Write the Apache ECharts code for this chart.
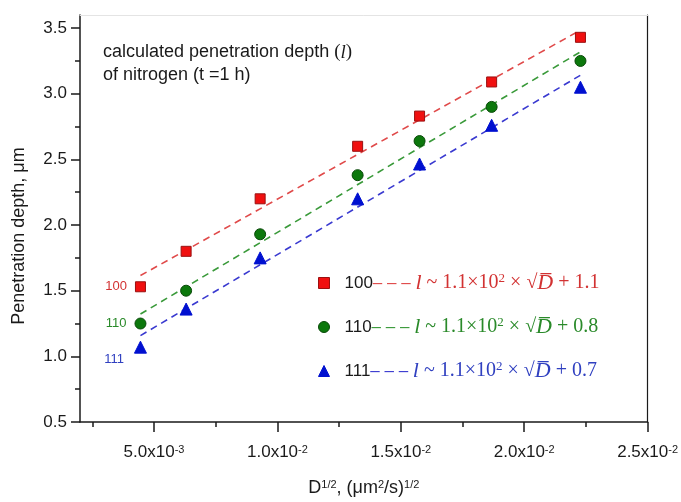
<!DOCTYPE html>
<html>
<head>
<meta charset="utf-8">
<script src="https://cdn.jsdelivr.net/npm/echarts@6/dist/echarts.min.js"></script>
<style>
  html, body { margin: 0; padding: 0; background: #fff; }
  #chart { width: 681px; height: 502px; }
</style>
</head>
<body>
<div id="chart"></div>
<script>
// Square root of the diffusion coefficient, (µm²/s)^1/2
const sqrtD = [0.00445, 0.0063, 0.0093, 0.01325, 0.01576, 0.01868, 0.02228];
// Penetration depth (µm) per crystal orientation
const depth100 = [1.53, 1.80, 2.20, 2.60, 2.83, 3.09, 3.43];
const depth110 = [1.25, 1.50, 1.93, 2.38, 2.64, 2.90, 3.25];
const depth111 = [1.07, 1.36, 1.75, 2.20, 2.465, 2.76, 3.05];
const orientations = ['100', '110', '111'];
const intercepts = ['1.1', '0.8', '0.7'];

// Axis ticks
const xMajorTicks = [0.005, 0.01, 0.015, 0.02, 0.025];
const xMinorTicks = [0.0025, 0.0075, 0.0125, 0.0175, 0.0225];
const yMajorTicks = [0.5, 1.0, 1.5, 2.0, 2.5, 3.0, 3.5];
const yMinorTicks = [0.75, 1.25, 1.75, 2.25, 2.75, 3.25];

const SANS = '"Liberation Sans", Arial, sans-serif';
const SERIF = '"Liberation Serif", "Times New Roman", serif';
const INK = '#1a1a1a';

const styles = [
  { fill: '#f01010', edge: '#9a1010', line: '#e04a4a', text: '#d23232', symbol: 'rect', size: 10, labelOffset: [0, 0] },
  { fill: '#0c780c', edge: '#0a4a0a', line: '#3a9a3a', text: '#2a8a2a', symbol: 'circle', size: 11, labelOffset: [0, 0] },
  { fill: '#0010d0', edge: '#0010d0', line: '#3a3ad0', text: '#3040c0', symbol: 'triangle', size: 12, labelOffset: [-2, 12] }
];
const depths = [depth100, depth110, depth111];

// Least-squares straight line through a set of points
function linearFit(xs, ys) {
  const n = xs.length;
  const mx = xs.reduce((a, b) => a + b, 0) / n;
  const my = ys.reduce((a, b) => a + b, 0) / n;
  let sxy = 0, sxx = 0;
  for (let i = 0; i < n; i++) {
    sxy += (xs[i] - mx) * (ys[i] - my);
    sxx += (xs[i] - mx) * (xs[i] - mx);
  }
  const slope = sxy / sxx;
  return { slope, intercept: my - slope * mx };
}

function sciLabel(v) {
  const exp = Math.floor(Math.log10(v) + 1e-9);
  const mant = (v / Math.pow(10, exp)).toFixed(1);
  return mant + 'x10{sup|' + exp + '}';
}

const series = [];
depths.forEach((ys, k) => {
  const st = styles[k];
  series.push({
    name: orientations[k],
    type: 'scatter',
    symbol: st.symbol,
    symbolSize: st.size,
    itemStyle: { color: st.fill, borderColor: st.edge, borderWidth: 1, opacity: 1 },
    data: sqrtD.map((x, i) => {
      const item = { value: [x, ys[i]] };
      if (i === 0) {
        item.label = {
          show: true, position: 'left', distance: 8,
          offset: st.labelOffset,
          formatter: orientations[k],
          color: st.text, fontFamily: SANS, fontSize: 13
        };
      }
      return item;
    }),
    z: 5
  });
  const fit = linearFit(sqrtD, ys);
  const x0 = sqrtD[0], x1 = sqrtD[sqrtD.length - 1];
  series.push({
    name: orientations[k] + ' fit',
    type: 'line',
    showSymbol: false,
    symbol: 'none',
    silent: true,
    lineStyle: { color: st.line, width: 1.6, type: [7, 5] },
    data: [[x0, fit.intercept + fit.slope * x0], [x1, fit.intercept + fit.slope * x1]],
    z: 3
  });
});

const legendRich = {};
styles.forEach((st, k) => {
  legendRich['n' + k] = { fontFamily: SANS, fontSize: 17, color: INK, padding: [0, 0, 0, 10], lineHeight: 22 };
  legendRich['d' + k] = { fontFamily: SANS, fontSize: 17, color: st.line, lineHeight: 22 };
  legendRich['i' + k] = { fontFamily: SERIF, fontSize: 22, fontStyle: 'italic', color: st.text, lineHeight: 22 };
  legendRich['e' + k] = { fontFamily: SERIF, fontSize: 20, color: st.text, lineHeight: 22 };
  legendRich['s' + k] = { fontFamily: SERIF, fontSize: 13, color: st.text, verticalAlign: 'top', lineHeight: 14 };
});

const chart = echarts.init(document.getElementById('chart'), null, { renderer: 'canvas' });

chart.setOption({
  backgroundColor: '#fff',
  animation: false,
  grid: { left: 80, right: 33, top: 15, bottom: 70, containLabel: false },
  legend: {
    orient: 'vertical',
    left: 313,
    top: 267,
    itemGap: 22,
    itemWidth: 11,
    itemHeight: 11,
    data: orientations.map((name, k) => ({
      name,
      icon: styles[k].symbol,
      itemStyle: { color: styles[k].fill, borderColor: styles[k].edge, borderWidth: 1, opacity: 1 }
    })),
    formatter: function (name) {
      const k = orientations.indexOf(name);
      return '{n' + k + '|' + name + '}{d' + k + '|– – – }{i' + k + '|l}{e' + k + '| ~ 1.1×10}{s' + k + '|2}{e' + k +
        '| × √}{i' + k + '|D\u0305}{e' + k + '| + ' + intercepts[k] + '}';
    },
    textStyle: { rich: legendRich, lineHeight: 22 },
    selectedMode: false
  },
  xAxis: [
    {
      type: 'value', min: 0.002, max: 0.025, position: 'bottom',
      axisLine: { show: true, onZero: false, lineStyle: { color: INK, width: 1.5 } },
      axisTick: { show: true, inside: false, length: 10, lineStyle: { color: INK, width: 1.5 }, customValues: xMajorTicks },
      axisLabel: {
        customValues: xMajorTicks, margin: 22, color: INK, fontFamily: SANS, fontSize: 17,
        formatter: sciLabel,
        rich: { sup: { fontSize: 11, verticalAlign: 'top', lineHeight: 12, fontFamily: SANS, color: INK } }
      },
      splitLine: { show: false },
      name: 'D{sup|1/2}, (μm{sup|2}/s){sup|1/2}',
      nameLocation: 'middle',
      nameGap: 57,
      nameTextStyle: {
        fontFamily: SANS, fontSize: 18, color: INK,
        rich: { sup: { fontSize: 11, verticalAlign: 'top', lineHeight: 12, fontFamily: SANS, color: INK } }
      }
    },
    {
      type: 'value', min: 0.002, max: 0.025, position: 'bottom',
      axisLine: { show: false },
      axisTick: { show: true, inside: false, length: 5, lineStyle: { color: INK, width: 1.5 }, customValues: xMinorTicks },
      axisLabel: { show: false },
      splitLine: { show: false }
    },
    {
      type: 'value', min: 0.002, max: 0.025, position: 'top',
      axisLine: { show: true, onZero: false, lineStyle: { color: '#e4e4e4', width: 1 } },
      axisTick: { show: false }, axisLabel: { show: false }, splitLine: { show: false }
    }
  ],
  yAxis: [
    {
      type: 'value', min: 0.5, max: 3.6, position: 'left',
      axisLine: { show: true, onZero: false, lineStyle: { color: INK, width: 1.5 } },
      axisTick: { show: true, inside: false, length: 9, lineStyle: { color: INK, width: 1.5 }, customValues: yMajorTicks },
      axisLabel: {
        customValues: yMajorTicks, margin: 13, color: INK, fontFamily: SANS, fontSize: 17,
        formatter: v => v.toFixed(1)
      },
      splitLine: { show: false }
    },
    {
      type: 'value', min: 0.5, max: 3.6, position: 'left',
      axisLine: { show: false },
      axisTick: { show: true, inside: false, length: 5, lineStyle: { color: INK, width: 1.5 }, customValues: yMinorTicks },
      axisLabel: { show: false }, splitLine: { show: false }
    },
    {
      type: 'value', min: 0.5, max: 3.6, position: 'right',
      axisLine: { show: true, onZero: false, lineStyle: { color: INK, width: 1.2 } },
      axisTick: { show: false }, axisLabel: { show: false }, splitLine: { show: false }
    }
  ],
  graphic: [
    {
      type: 'text',
      left: 103,
      top: 41,
      style: {
        text: 'calculated penetration depth {p|(}{l|l}{p|)}\nof nitrogen (t =1 h)',
        fontFamily: SANS, fontSize: 18, fill: INK, lineHeight: 23,
        rich: {
          p: { fontFamily: SERIF, fontSize: 19, fill: INK, lineHeight: 23 },
          l: { fontFamily: SERIF, fontSize: 19, fontStyle: 'italic', fill: INK, lineHeight: 23 }
        }
      }
    },
    {
      // vertical axis title
      type: 'text',
      x: 19,
      y: 236,
      rotation: Math.PI / 2,
      style: {
        text: 'Penetration depth, μm',
        fontFamily: SANS, fontSize: 18, fill: INK,
        align: 'center', verticalAlign: 'middle'
      }
    }
  ],
  series
});
</script>
</body>
</html>
